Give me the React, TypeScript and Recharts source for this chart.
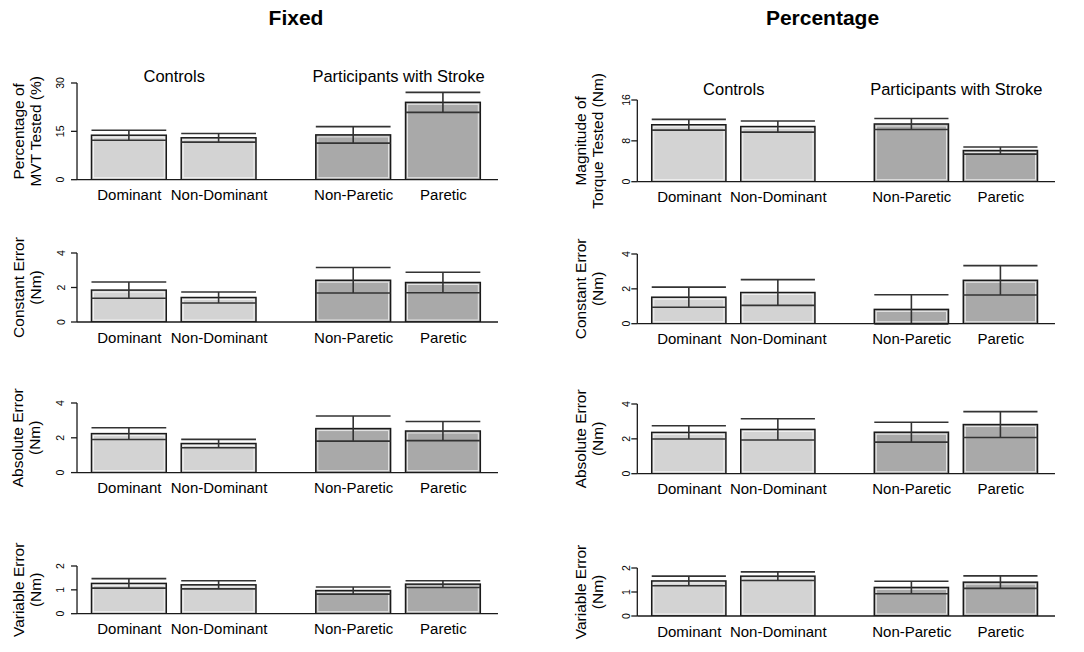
import React from "react";
import { BarChart, Bar, XAxis, YAxis, ErrorBar, Cell, ReferenceLine } from "recharts";

const categories = ["Dominant", "Non-Dominant", "Non-Paretic", "Paretic"];
const categoryGroup = [0, 0, 1, 1];
const groupNames = ["Controls", "Participants with Stroke"];
const columnTitles = ["Fixed", "Percentage"];

// mean and standard error
const mvtFixedMean = [13.8, 13.0, 13.9, 24.0];
const mvtFixedSE = [1.55, 1.35, 2.55, 3.1];
const torquePctMean = [11.15, 10.8, 11.3, 6.1];
const torquePctSE = [1.05, 1.1, 1.08, 0.7];

const ceFixedMean = [1.85, 1.42, 2.42, 2.29];
const ceFixedSE = [0.47, 0.32, 0.74, 0.59];
const cePctMean = [1.52, 1.79, 0.82, 2.49];
const cePctSE = [0.58, 0.74, 0.84, 0.84];

const aeFixedMean = [2.24, 1.67, 2.53, 2.39];
const aeFixedSE = [0.34, 0.24, 0.72, 0.55];
const aePctMean = [2.37, 2.54, 2.38, 2.82];
const aePctSE = [0.38, 0.61, 0.57, 0.74];

const veFixedMean = [1.27, 1.21, 0.97, 1.24];
const veFixedSE = [0.2, 0.17, 0.15, 0.14];
const vePctMean = [1.46, 1.66, 1.19, 1.41];
const vePctSE = [0.2, 0.18, 0.26, 0.26];

const mvtTicks = [0, 15, 30];
const torqueTicks = [0, 8, 16];
const errTicks = [0, 2, 4];
const veTicks = [0, 1, 2];

const FONT = '"Liberation Sans", Arial, Helvetica, sans-serif';
const groupFills = ["#d3d3d3", "#a9a9a9"];
const INK = "#1a1a1a";

// x layout in bar widths: 0.2 between bars of a group, 0.8 between groups
const X_MAX = 5.63;
const barCenter = (i: number) => 0.7 + 1.2 * i + (categoryGroup[i] > 0 ? 0.6 : 0);
const xTicks = categories.map((_, i) => barCenter(i));
const groupTicks = [(xTicks[0] + xTicks[1]) / 2, (xTicks[2] + xTicks[3]) / 2];

const BarShape = (props: any) => {
  const { x, y, width, height, fill } = props;
  if (!width || height == null) return null;
  return (
    <g>
      <rect x={x} y={y} width={width} height={height} fill={fill} stroke={INK} strokeWidth={1.5} />
      <rect
        x={x + 2}
        y={y + 2}
        width={Math.max(0, width - 4)}
        height={Math.max(0, height - 4)}
        fill="none"
        stroke="#fff"
        strokeWidth={1}
        strokeOpacity={0.7}
      />
    </g>
  );
};

type Col = { left: number; width: number; axisX: number; axisEnd: number; tickDist: number; labelOff: number; groupGap: number };

const COLS: Col[] = [
  { left: 0, width: 540, axisX: 77, axisEnd: 498, tickDist: 16.5, labelOff: -59, groupGap: 1 },
  { left: 540, width: 544, axisX: 97.3, axisEnd: 515, tickDist: 11, labelOff: -57, groupGap: 4.7 },
];

type PanelProps = {
  col: Col;
  mean: number[];
  se: number[];
  yTicks: number[];
  yLabel: string[];
  y0: number;
  yTop: number;
  showGroups?: boolean;
};

function Panel({ col, mean, se, yTicks, yLabel, y0, yTop, showGroups }: PanelProps) {
  const data = categories.map((name, i) => ({
    name,
    pos: xTicks[i],
    mean: mean[i],
    se: se[i],
    group: categoryGroup[i],
  }));
  const marginTop = 40;
  const chartTop = yTop - marginTop;
  const xAxisH = 30;
  const height = y0 - chartTop + xAxisH + 4;
  const plotW = col.axisEnd - col.axisX;
  const barW = plotW / X_MAX;
  const plotTop = marginTop;
  const plotH = y0 - yTop;
  const yMax = yTicks[yTicks.length - 1];

  const YTick = (tp: any) => {
    const tx = col.axisX - col.tickDist;
    const ty = tp.y;
    return (
      <text
        x={tx}
        y={ty}
        transform={`rotate(-90 ${tx} ${ty})`}
        textAnchor="middle"
        dominantBaseline="central"
        fontSize={10.5}
        fontFamily={FONT}
        fill="#000"
      >
        {tp.payload.value}
      </text>
    );
  };

  const YLabel = () => {
    const cy = plotTop + plotH / 2;
    return (
      <g>
        {yLabel.map((t, i) => {
          const lx = col.axisX + col.labelOff + i * 17;
          return (
            <text
              key={i}
              x={lx}
              y={cy}
              transform={`rotate(-90 ${lx} ${cy})`}
              textAnchor="middle"
              dominantBaseline="central"
              fontSize={15.5}
              fontFamily={FONT}
              fill="#000"
            >
              {t}
            </text>
          );
        })}
      </g>
    );
  };

  return (
    <div style={{ position: "absolute", left: col.left, top: chartTop }}>
      <BarChart
        width={col.width}
        height={height}
        data={data}
        margin={{ top: marginTop, right: col.width - col.axisEnd, bottom: 4, left: 0 }}
      >
        <XAxis
          xAxisId="cat"
          dataKey="pos"
          type="number"
          domain={[0, X_MAX]}
          allowDataOverflow
          ticks={xTicks}
          interval={0}
          tickFormatter={(v: number) => categories[xTicks.indexOf(v)] ?? ""}
          tickLine={false}
          tickSize={6}
          tickMargin={4}
          height={xAxisH}
          axisLine={{ stroke: INK, strokeWidth: 1.3 }}
          tick={{ fill: "#000", fontSize: 15, fontFamily: FONT }}
        />
        <YAxis
          type="number"
          domain={[0, yMax]}
          allowDataOverflow
          ticks={yTicks}
          interval={0}
          width={col.axisX}
          tickSize={6}
          tickLine={{ stroke: INK, strokeWidth: 1.3 }}
          axisLine={{ stroke: INK, strokeWidth: 1.3 }}
          tick={YTick}
          label={{ content: () => <YLabel /> }}
        />
        {showGroups &&
          groupTicks.map((gx, gi) => (
            <ReferenceLine
              key={gi}
              xAxisId="cat"
              x={gx}
              stroke="none"
              strokeOpacity={0}
              label={{
                value: groupNames[gi],
                position: "top",
                offset: col.groupGap,
                fill: "#000",
                fontSize: 16.5,
                fontFamily: FONT,
              }}
            />
          ))}
        <Bar xAxisId="cat" dataKey="mean" barSize={barW} isAnimationActive={false} shape={BarShape}>
          {data.map((d, i) => (
            <Cell key={i} fill={groupFills[d.group]} />
          ))}
          <ErrorBar dataKey="se" direction="y" width={barW / 2} stroke="#333" strokeWidth={1.6} />
        </Bar>
      </BarChart>
    </div>
  );
}

export default function App() {
  const [L, R] = COLS;
  return (
    <div
      style={{
        position: "absolute",
        left: 0,
        top: 0,
        width: 1084,
        height: 652,
        background: "#fff",
        fontFamily: FONT,
        overflow: "hidden",
      }}
    >
      <svg width={1084} height={40} style={{ position: "absolute", left: 0, top: 0 }}>
        <text x={296} y={25} textAnchor="middle" fontSize={21} fontWeight="bold" fontFamily={FONT}>
          {columnTitles[0]}
        </text>
        <text x={822.5} y={25} textAnchor="middle" fontSize={21} fontWeight="bold" fontFamily={FONT}>
          {columnTitles[1]}
        </text>
      </svg>

      <Panel col={L} mean={mvtFixedMean} se={mvtFixedSE} yTicks={mvtTicks}
        yLabel={["Percentage of", "MVT Tested (%)"]} y0={180} yTop={83.3} showGroups />
      <Panel col={R} mean={torquePctMean} se={torquePctSE} yTicks={torqueTicks}
        yLabel={["Magnitude of", "Torque Tested (Nm)"]} y0={181.7} yTop={100} showGroups />

      <Panel col={L} mean={ceFixedMean} se={ceFixedSE} yTicks={errTicks}
        yLabel={["Constant Error", "(Nm)"]} y0={321.7} yTop={252.7} />
      <Panel col={R} mean={cePctMean} se={cePctSE} yTicks={errTicks}
        yLabel={["Constant Error", "(Nm)"]} y0={324} yTop={254.3} />

      <Panel col={L} mean={aeFixedMean} se={aeFixedSE} yTicks={errTicks}
        yLabel={["Absolute Error", "(Nm)"]} y0={472.3} yTop={402.7} />
      <Panel col={R} mean={aePctMean} se={aePctSE} yTicks={errTicks}
        yLabel={["Absolute Error", "(Nm)"]} y0={474} yTop={404.3} />

      <Panel col={L} mean={veFixedMean} se={veFixedSE} yTicks={veTicks}
        yLabel={["Variable Error", "(Nm)"]} y0={614} yTop={566.3} />
      <Panel col={R} mean={vePctMean} se={vePctSE} yTicks={veTicks}
        yLabel={["Variable Error", "(Nm)"]} y0={616} yTop={568} />
    </div>
  );
}
